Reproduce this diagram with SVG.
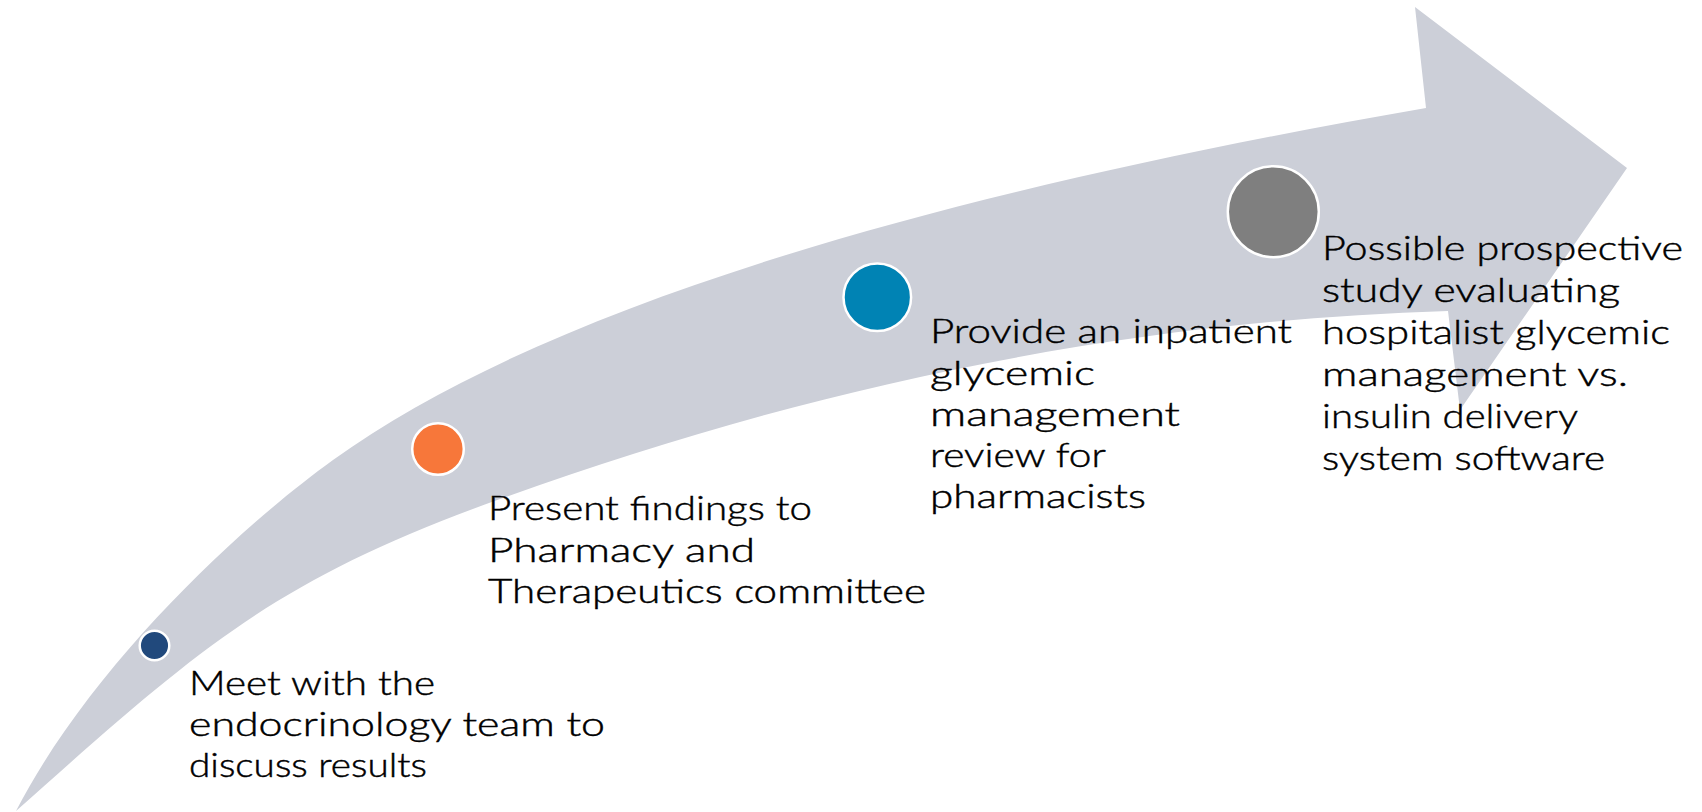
<svg xmlns="http://www.w3.org/2000/svg" width="1702" height="812" viewBox="0 0 1702 812">
  <style>
    .band { fill: #CCCFD8; }
    .dot { stroke: #FFFFFF; stroke-width: 2.5; }
    .label { font-family: "Lato", "DejaVu Sans", sans-serif; font-weight: 300; font-size: 32.5px; fill: #000000; stroke: #000000; stroke-width: 0.45; }
  </style>

  <!-- curved sweeping arrow -->
  <g id="connectors">
    <path class="band" d="M16,811
      C89.6,668.6 235.7,530.2 333,460
      C552,302 953.2,190.1 1426,108
      L1415,7 L1627,168 L1460,410 L1448,311
      C1098,321.5 782.3,397.3 500,499
      C274.2,580.4 202.75,644.75 16,811 Z"/>
  </g>

  <!-- step 1 -->
  <g id="step1">
    <circle class="dot" cx="154.5" cy="645.5" r="14.8" fill="#21497C"/>
    <text class="label">
      <tspan x="189" y="695" textLength="246" lengthAdjust="spacingAndGlyphs">Meet with the</tspan>
      <tspan x="189" y="736" textLength="416" lengthAdjust="spacingAndGlyphs">endocrinology team to</tspan>
      <tspan x="189" y="777" textLength="238" lengthAdjust="spacingAndGlyphs">discuss results</tspan>
    </text>
  </g>

  <!-- step 2 -->
  <g id="step2">
    <circle class="dot" cx="438" cy="449" r="25.8" fill="#F7773A"/>
    <text class="label">
      <tspan x="488" y="520" textLength="324" lengthAdjust="spacingAndGlyphs">Present findings to</tspan>
      <tspan x="488" y="561.5" textLength="267" lengthAdjust="spacingAndGlyphs">Pharmacy and</tspan>
      <tspan x="488" y="603" textLength="438" lengthAdjust="spacingAndGlyphs">Therapeutics committee</tspan>
    </text>
  </g>

  <!-- step 3 -->
  <g id="step3">
    <circle class="dot" cx="877.3" cy="297.2" r="33.8" fill="#0083B4"/>
    <text class="label">
      <tspan x="930" y="343" textLength="362" lengthAdjust="spacingAndGlyphs">Provide an inpatient</tspan>
      <tspan x="930" y="384.5" textLength="165" lengthAdjust="spacingAndGlyphs">glycemic</tspan>
      <tspan x="930" y="426" textLength="250" lengthAdjust="spacingAndGlyphs">management</tspan>
      <tspan x="930" y="467" textLength="175" lengthAdjust="spacingAndGlyphs">review for</tspan>
      <tspan x="930" y="508" textLength="216" lengthAdjust="spacingAndGlyphs">pharmacists</tspan>
    </text>
  </g>

  <!-- step 4 -->
  <g id="step4">
    <circle class="dot" cx="1273.3" cy="211.7" r="45.5" fill="#7F7F7F"/>
    <text class="label">
      <tspan x="1322" y="260" textLength="361" lengthAdjust="spacingAndGlyphs">Possible prospective</tspan>
      <tspan x="1322" y="302" textLength="298" lengthAdjust="spacingAndGlyphs">study evaluating</tspan>
      <tspan x="1322" y="344" textLength="348" lengthAdjust="spacingAndGlyphs">hospitalist glycemic</tspan>
      <tspan x="1322" y="386" textLength="306" lengthAdjust="spacingAndGlyphs">management vs.</tspan>
      <tspan x="1322" y="428" textLength="255" lengthAdjust="spacingAndGlyphs">insulin delivery</tspan>
      <tspan x="1322" y="470" textLength="283" lengthAdjust="spacingAndGlyphs">system software</tspan>
    </text>
  </g>
</svg>
